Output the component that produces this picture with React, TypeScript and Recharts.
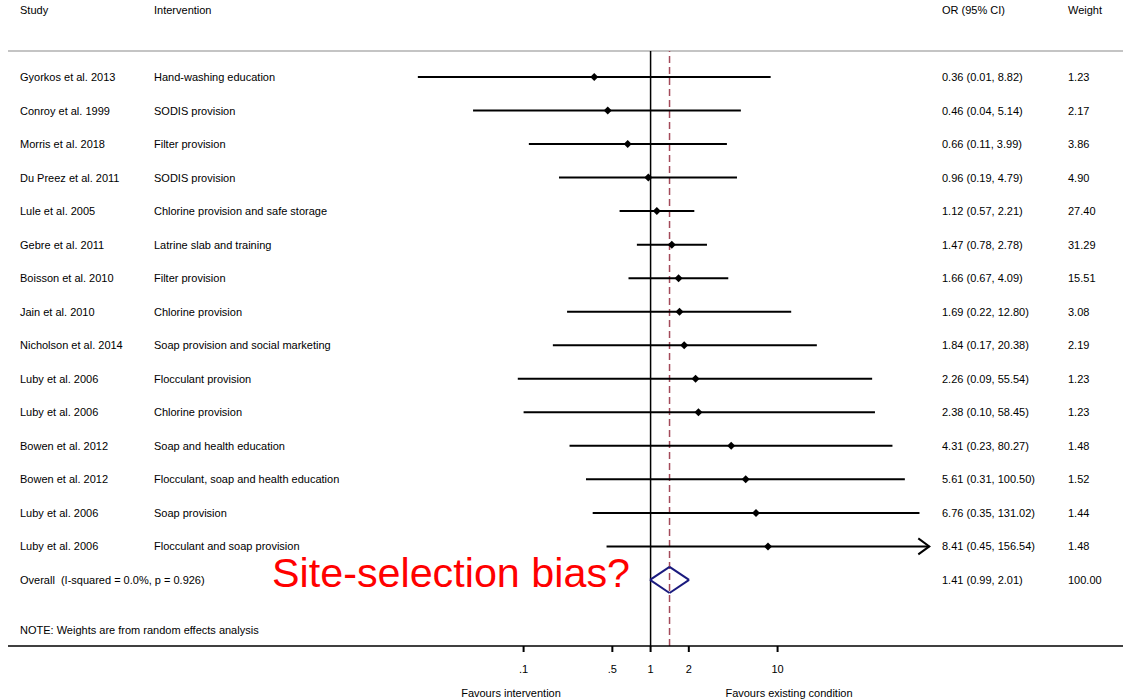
import { ScatterChart, Scatter, XAxis, YAxis, ReferenceLine } from 'recharts';

const studies = [
  'Gyorkos et al. 2013', 'Conroy et al. 1999', 'Morris et al. 2018', 'Du Preez et al. 2011',
  'Lule et al. 2005', 'Gebre et al. 2011', 'Boisson et al. 2010', 'Jain et al. 2010',
  'Nicholson et al. 2014', 'Luby et al. 2006', 'Luby et al. 2006', 'Bowen et al. 2012',
  'Bowen et al. 2012', 'Luby et al. 2006', 'Luby et al. 2006',
];
const interventions = [
  'Hand-washing education', 'SODIS provision', 'Filter provision', 'SODIS provision',
  'Chlorine provision and safe storage', 'Latrine slab and training', 'Filter provision',
  'Chlorine provision', 'Soap provision and social marketing', 'Flocculant provision',
  'Chlorine provision', 'Soap and health education', 'Flocculant, soap and health education',
  'Soap provision', 'Flocculant and soap provision',
];
const oddsRatios = [0.36, 0.46, 0.66, 0.96, 1.12, 1.47, 1.66, 1.69, 1.84, 2.26, 2.38, 4.31, 5.61, 6.76, 8.41];
const ciLow = [0.0147, 0.04, 0.11, 0.19, 0.57, 0.78, 0.67, 0.22, 0.17, 0.09, 0.10, 0.23, 0.31, 0.35, 0.45];
const ciHigh = [8.82, 5.14, 3.99, 4.79, 2.21, 2.78, 4.09, 12.80, 20.38, 55.54, 58.45, 80.27, 100.50, 131.02, 156.54];
const weights = [1.23, 2.17, 3.86, 4.90, 27.40, 31.29, 15.51, 3.08, 2.19, 1.23, 1.23, 1.48, 1.52, 1.44, 1.48];

const overallOR = 1.41;
const overallLow = 0.99;
const overallHigh = 2.01;
const overallWeight = 100.0;
const overallLabel = 'Overall\u00a0 (I-squared = 0.0%, p = 0.926)';

const xTicks = [0.1, 0.5, 1, 2, 10];

// layout of the log axis: 1 sits at x=651, 127px per decade, plot spans 8..1123
const X_MIN = 10 ** -5.06;
const X_MAX = 10 ** 3.72;
const Y_MIN = -0.775;
const Y_MAX = 16.97;

const FONT = '"Liberation Sans", Arial, sans-serif';
const COL_STUDY = 20;
const COL_INTERV = 154;
const COL_OR = 942;
const COL_WEIGHT = 1068;

const fmt = (v: number) => v.toFixed(2);

const rows = studies.map((s, i) => ({
  x: oddsRatios[i],
  y: i,
  study: s,
  intervention: interventions[i],
  ci: `${fmt(oddsRatios[i])} (${fmt(ciLow[i])}, ${fmt(ciHigh[i])})`,
  weight: fmt(weights[i]),
}));

const overallRow = [{
  x: overallOR,
  y: studies.length,
  study: overallLabel,
  intervention: '',
  ci: `${fmt(overallOR)} (${fmt(overallLow)}, ${fmt(overallHigh)})`,
  weight: fmt(overallWeight),
}];

const lastIdx = studies.length - 1;
const arrowPoint = [{ x: ciHigh[lastIdx], y: lastIdx }];

// eslint-disable-next-line @typescript-eslint/no-explicit-any
const RowTexts = ({ cy, payload }: any) => (
  <g fontFamily={FONT} fontSize={11} fill="#000">
    <text x={COL_STUDY} y={cy} dominantBaseline="central">{payload.study}</text>
    <text x={COL_INTERV} y={cy} dominantBaseline="central">{payload.intervention}</text>
    <text x={COL_OR} y={cy} dominantBaseline="central">{payload.ci}</text>
    <text x={COL_WEIGHT} y={cy} dominantBaseline="central">{payload.weight}</text>
  </g>
);

// eslint-disable-next-line @typescript-eslint/no-explicit-any
const StudyPoint = (props: any) => {
  const { cx, cy } = props;
  const r = 4;
  return (
    <g>
      <polygon points={`${cx - r},${cy} ${cx},${cy - r} ${cx + r},${cy} ${cx},${cy + r}`} fill="#000" />
      <RowTexts {...props} />
    </g>
  );
};

// eslint-disable-next-line @typescript-eslint/no-explicit-any
const ArrowHead = ({ cx, cy }: any) => (
  <polyline
    points={`${cx - 11},${cy - 8} ${cx},${cy} ${cx - 11},${cy + 8}`}
    fill="none"
    stroke="#000"
    strokeWidth={2}
  />
);

const diamondH = 0.39;
const diamondPts = [
  { x: overallLow, y: studies.length },
  { x: overallOR, y: studies.length - diamondH },
  { x: overallHigh, y: studies.length },
  { x: overallOR, y: studies.length + diamondH },
];

export default function App() {
  return (
    <div style={{ position: 'relative', width: 1132, height: 700, background: '#fff' }}>
      <style>{'body{margin:0}'}</style>
      <ScatterChart width={1132} height={700} margin={{ top: 51, right: 9, bottom: 0, left: 8 }}>
        <XAxis
          type="number"
          dataKey="x"
          scale="log"
          domain={[X_MIN, X_MAX]}
          allowDataOverflow
          ticks={xTicks}
          tickFormatter={(v: number) => (v < 1 ? String(v).replace('0.', '.') : String(v))}
          height={54}
          tickSize={6}
          tickMargin={13}
          axisLine={{ stroke: '#000', strokeWidth: 1.5 }}
          tickLine={{ stroke: '#000', strokeWidth: 2 }}
          tick={{ fill: '#000', fontSize: 11, fontFamily: FONT }}
        />
        <YAxis type="number" dataKey="y" domain={[Y_MIN, Y_MAX]} reversed hide allowDataOverflow />
        <ReferenceLine y={Y_MIN} stroke="#c4c4c4" strokeWidth={2} />
        <ReferenceLine x={1} stroke="#000" strokeWidth={1.5} />
        <ReferenceLine x={overallOR} stroke="#a44a5a" strokeWidth={1.5} strokeDasharray="7 4" />
        {rows.map((r, i) => (
          <ReferenceLine
            key={`ci-${i}`}
            segment={[{ x: ciLow[i], y: r.y }, { x: ciHigh[i], y: r.y }]}
            stroke="#000"
            strokeWidth={2}
          />
        ))}
        {diamondPts.map((p, i) => (
          <ReferenceLine
            key={`dia-${i}`}
            segment={[p, diamondPts[(i + 1) % diamondPts.length]]}
            stroke="#1a1a7e"
            strokeWidth={2}
          />
        ))}
        <Scatter data={rows} shape={StudyPoint} isAnimationActive={false} />
        <Scatter data={overallRow} shape={RowTexts} isAnimationActive={false} />
        <Scatter data={arrowPoint} shape={ArrowHead} isAnimationActive={false} />
      </ScatterChart>
      <svg
        width={1132}
        height={700}
        style={{ position: 'absolute', left: 0, top: 0, pointerEvents: 'none' }}
        fontFamily={FONT}
        fontSize={11}
      >
        <text x={COL_STUDY} y={10} dominantBaseline="central">Study</text>
        <text x={COL_INTERV} y={10} dominantBaseline="central">Intervention</text>
        <text x={COL_OR} y={10} dominantBaseline="central">OR (95% CI)</text>
        <text x={COL_WEIGHT} y={10} dominantBaseline="central">Weight</text>
        <text x={COL_STUDY} y={630} dominantBaseline="central">NOTE: Weights are from random effects analysis</text>
        <text x={511} y={693} textAnchor="middle" dominantBaseline="central">Favours intervention</text>
        <text x={789} y={693} textAnchor="middle" dominantBaseline="central">Favours existing condition</text>
        <text x={272} y={587} fontSize={40} fill="#ff0000" textLength={358} lengthAdjust="spacingAndGlyphs">
          Site-selection bias?
        </text>
      </svg>
    </div>
  );
}
